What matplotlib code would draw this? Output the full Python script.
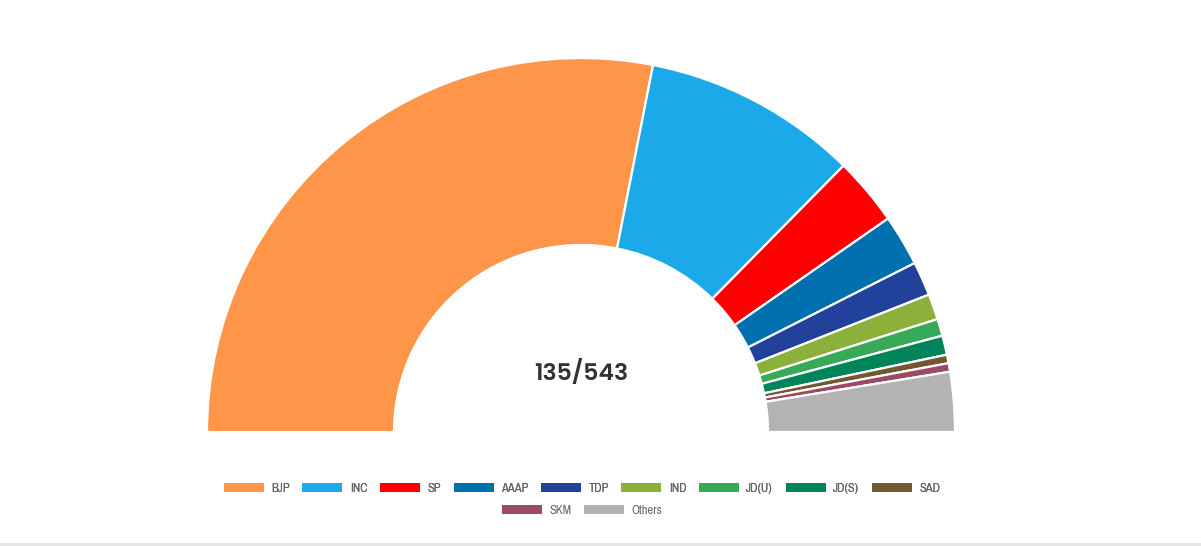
import matplotlib
matplotlib.use("Agg")
import matplotlib.pyplot as plt
from matplotlib.patches import Patch
from matplotlib.lines import Line2D

# 各党席位（从图上按角度估算）
parties = ["BJP", "INC", "SP", "AAAP", "TDP", "IND", "JD(U)", "JD(S)", "SAD", "SKM", "Others"]
seats = [305, 101, 32, 24, 16, 12, 8, 9, 4, 4, 28]
colors = ["#FF9549", "#1CA9EA", "#FF0000", "#0070AF", "#22419A", "#8BB13A",
          "#36AA57", "#00845A", "#735730", "#9B4A61", "#B3B3B3"]
center_label = "135/543"

W, H = 1201, 546
CX, CY, R = 581, 432, 374

fig = plt.figure(figsize=(W / 100, H / 100), dpi=100)
ax = fig.add_axes([0, 0, 1, 1])

total = sum(seats)
# 下半圆用一个透明扇形占位
wedges, _ = ax.pie(seats + [total], colors=colors + ["none"], startangle=180,
                   counterclock=False, radius=1.0,
                   wedgeprops=dict(width=0.5, edgecolor="white", linewidth=1.6))
wedges[-1].set_edgecolor("none")

ax.set_xlim(-CX / R, (W - CX) / R)
ax.set_ylim((CY - H) / R, CY / R)
ax.set_aspect("equal")
ax.axis("off")

ax.text(0, (CY - 373) / R, center_label, ha="center", va="center",
        fontsize=17, fontweight="semibold", color="#333333", family="Poppins")

# 图例：两行
handles = [Patch(facecolor=c, edgecolor="none", label=p) for p, c in zip(parties, colors)]
leg_kw = dict(frameon=False, loc="center", handlelength=3.2, handleheight=0.75,
              handletextpad=0.6, columnspacing=1.0, labelcolor="#666666",
              prop={"family": "Archivo Narrow", "size": 9})
leg1 = fig.legend(handles=handles[:9], ncol=9, bbox_to_anchor=(582 / W, 1 - 488 / H), **leg_kw)
fig.add_artist(leg1)
fig.legend(handles=handles[9:], ncol=2, bbox_to_anchor=(582 / W, 1 - 510 / H), **leg_kw)

# 底部浅灰分隔线
fig.add_artist(Line2D([0, 1], [1 - 544 / H, 1 - 544 / H], color="#E3E3E3", linewidth=2,
                      transform=fig.transFigure))

fig.savefig("out.png", dpi=100, facecolor="white")
